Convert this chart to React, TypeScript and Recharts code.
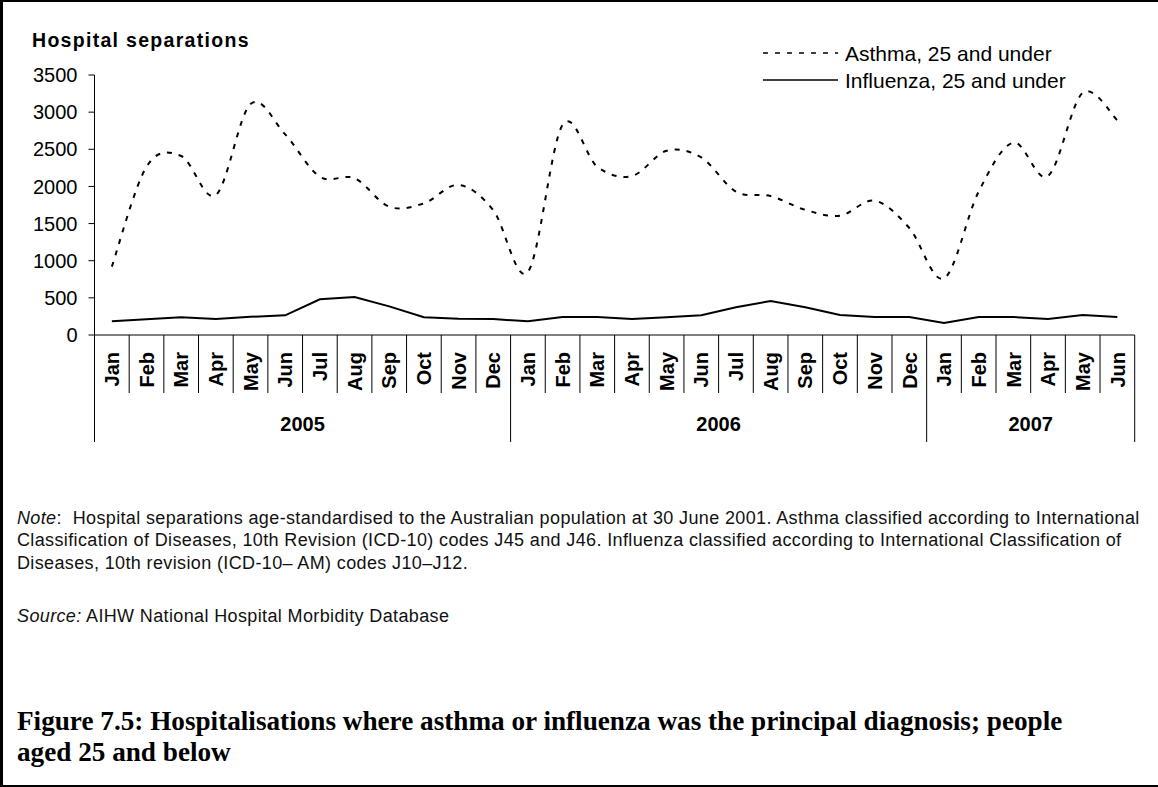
import { LineChart, Line, XAxis, YAxis } from "recharts";

// monthly hospital separations, Jan 2005 - Jun 2007
const months = [
  "Jan", "Feb", "Mar", "Apr", "May", "Jun", "Jul", "Aug", "Sep", "Oct", "Nov", "Dec",
  "Jan", "Feb", "Mar", "Apr", "May", "Jun", "Jul", "Aug", "Sep", "Oct", "Nov", "Dec",
  "Jan", "Feb", "Mar", "Apr", "May", "Jun",
];
const years = ["2005", "2006", "2007"];
const monthsPerYear = [12, 12, 6];

const asthma = [
  920, 2265, 2410, 1885, 3110, 2700, 2130, 2110, 1727, 1772, 2020, 1680,
  850, 2830, 2265, 2140, 2480, 2390, 1930, 1870, 1685, 1605, 1808, 1440,
  763, 1930, 2590, 2140, 3260, 2890,
];
const influenza = [
  184, 211, 238, 215, 245, 265, 480, 511, 385, 238, 220, 215,
  184, 242, 242, 215, 238, 265, 373, 458, 373, 269, 242, 242,
  162, 242, 242, 215, 269, 242,
];
const yTicks = [0, 500, 1000, 1500, 2000, 2500, 3000, 3500];

const SANS = '"Liberation Sans", Arial, sans-serif';
const SERIF = '"Liberation Serif", "Times New Roman", serif';

const W = 1158;
const PLOT_LEFT = 94.5;
const PLOT_RIGHT = 1134.7;
const PLOT_TOP = 75;
const PLOT_BOTTOM = 335;
const BW = (PLOT_RIGHT - PLOT_LEFT) / months.length;
const DASH = "5 7";

const data = months.map((m, i) => ({ month: m, asthma: asthma[i], influenza: influenza[i] }));

// first index of each year group
const yearStarts = monthsPerYear.map((_, i) => monthsPerYear.slice(0, i).reduce((a, b) => a + b, 0));

// Excel-style smoothed line (uniform Catmull-Rom through every point)
const excelSmooth = (context: any) => {
  let pts: [number, number][] = [];
  return {
    areaStart() {},
    areaEnd() {},
    lineStart() {
      pts = [];
    },
    point(x: number, y: number) {
      pts.push([+x, +y]);
    },
    lineEnd() {
      if (!pts.length) return;
      context.moveTo(pts[0][0], pts[0][1]);
      for (let i = 0; i < pts.length - 1; i++) {
        const p0 = pts[Math.max(i - 1, 0)];
        const p1 = pts[i];
        const p2 = pts[i + 1];
        const p3 = pts[Math.min(i + 2, pts.length - 1)];
        context.bezierCurveTo(
          p1[0] + (p2[0] - p0[0]) / 6,
          p1[1] + (p2[1] - p0[1]) / 6,
          p2[0] - (p3[0] - p1[0]) / 6,
          p2[1] - (p3[1] - p1[1]) / 6,
          p2[0],
          p2[1]
        );
      }
    },
  };
};

const MonthTick = (props: any) => {
  const { x, y, index } = props;
  const left = x - BW / 2;
  const group = yearStarts.indexOf(index);
  const isLast = index === months.length - 1;
  return (
    <g>
      <line x1={left} x2={left} y1={y} y2={group >= 0 ? y + 107 : y + 58} stroke="#000" />
      {isLast && <line x1={x + BW / 2} x2={x + BW / 2} y1={y} y2={y + 107} stroke="#000" />}
      <text
        x={x}
        y={y + 17}
        transform={`rotate(-90, ${x}, ${y + 17})`}
        textAnchor="end"
        dy="0.36em"
        fontSize={20}
        fontWeight="bold"
        fontFamily={SANS}
        fill="#000"
      >
        {months[index]}
      </text>
      {group >= 0 && (
        <text
          x={left + (monthsPerYear[group] * BW) / 2}
          y={y + 89}
          dy="0.36em"
          textAnchor="middle"
          fontSize={20}
          fontWeight="bold"
          fontFamily={SANS}
          fill="#000"
        >
          {years[group]}
        </text>
      )}
    </g>
  );
};

function ChartLegend() {
  const rows = [
    { label: "Asthma, 25 and under", dash: DASH, y: 53 },
    { label: "Influenza, 25 and under", dash: undefined, y: 80 },
  ];
  return (
    <svg width={400} height={70} style={{ position: "absolute", left: 758, top: 30 }}>
      {rows.map((r) => (
        <g key={r.label}>
          <line x1={5} x2={80} y1={r.y - 30} y2={r.y - 30} stroke="#000" strokeWidth={1.6} strokeDasharray={r.dash} />
          <text x={87} y={r.y - 30} dy="0.36em" fontSize={21} fontFamily={SANS} fill="#000">
            {r.label}
          </text>
        </g>
      ))}
    </svg>
  );
}

const noteStyle = {
  position: "absolute" as const,
  left: 17,
  fontSize: 18,
  letterSpacing: 0.37,
  lineHeight: "22px",
  whiteSpace: "nowrap" as const,
  color: "#111",
  fontFamily: SANS,
};

export default function App() {
  return (
    <div style={{ position: "fixed", left: 0, top: 0, width: W, height: 787, background: "#fff", overflow: "hidden" }}>
      <div
        style={{
          position: "absolute",
          inset: 0,
          borderTop: "2px solid #000",
          borderLeft: "3px solid #000",
          borderBottom: "2px solid #000",
          boxSizing: "border-box",
        }}
      />
      <div
        style={{
          position: "absolute",
          left: 32,
          top: 29,
          fontFamily: SANS,
          fontWeight: "bold",
          fontSize: 19.5,
          letterSpacing: 1.3,
          lineHeight: "22px",
          color: "#000",
        }}
      >
        Hospital separations
      </div>
      <div style={{ position: "absolute", left: 0, top: 0 }}>
        <LineChart
          width={W}
          height={450}
          data={data}
          margin={{ top: PLOT_TOP, right: W - PLOT_RIGHT, left: PLOT_LEFT - 80, bottom: 0 }}
        >
          <XAxis
            dataKey="month"
            interval={0}
            tickLine={false}
            tickSize={0}
            tickMargin={0}
            height={450 - PLOT_BOTTOM}
            padding={{ left: BW / 2, right: BW / 2 }}
            axisLine={{ stroke: "#000" }}
            tick={<MonthTick />}
          />
          <YAxis
            width={80}
            domain={[0, 3500]}
            ticks={yTicks}
            interval={0}
            tickSize={6}
            tickMargin={11}
            axisLine={{ stroke: "#000" }}
            tickLine={{ stroke: "#000" }}
            tick={{ fill: "#000", fontSize: 20, fontFamily: SANS }}
          />
          <Line
            dataKey="asthma"
            type={excelSmooth as any}
            stroke="#000"
            strokeWidth={2}
            strokeDasharray={DASH}
            dot={false}
            isAnimationActive={false}
          />
          <Line
            dataKey="influenza"
            type="linear"
            stroke="#000"
            strokeWidth={2}
            dot={false}
            isAnimationActive={false}
          />
        </LineChart>
      </div>
      <ChartLegend />
      <div style={{ ...noteStyle, top: 507 }}>
        <i>Note</i>:&nbsp; Hospital separations age-standardised to the Australian population at 30 June 2001. Asthma classified according to International
      </div>
      <div style={{ ...noteStyle, top: 529 }}>
        Classification of Diseases, 10th Revision (ICD-10) codes J45 and J46. Influenza classified according to International Classification of
      </div>
      <div style={{ ...noteStyle, top: 552 }}>Diseases, 10th revision (ICD-10– AM) codes J10–J12.</div>
      <div style={{ ...noteStyle, top: 605 }}>
        <i>Source:</i> AIHW National Hospital Morbidity Database
      </div>
      <div
        style={{
          position: "absolute",
          left: 17,
          top: 706,
          fontFamily: SERIF,
          fontWeight: "bold",
          fontSize: 27.2,
          lineHeight: "31px",
          color: "#000",
          whiteSpace: "nowrap",
        }}
      >
        Figure 7.5: Hospitalisations where asthma or influenza was the principal diagnosis; people
        <br />
        aged 25 and below
      </div>
    </div>
  );
}
